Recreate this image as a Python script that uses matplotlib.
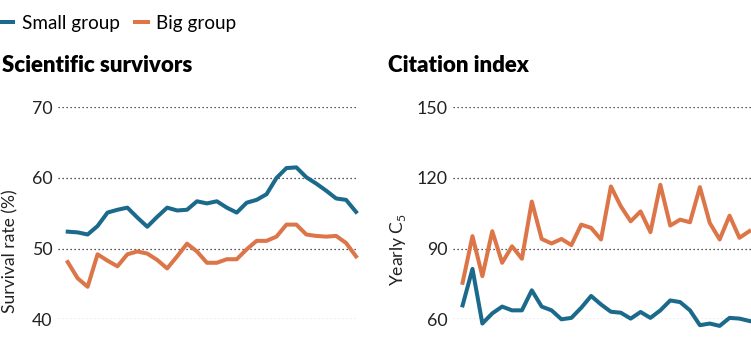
import matplotlib.pyplot as plt

plt.rcParams['font.family'] = ['Lato', 'DejaVu Sans']

# survival rate (%) per year, small vs big groups
survival_small = [52.4, 52.3, 52.0, 53.2, 55.1, 55.5, 55.8, 54.4, 53.1, 54.5,
                  55.8, 55.4, 55.5, 56.7, 56.4, 56.7, 55.8, 55.1, 56.5, 56.9,
                  57.7, 60.0, 61.4, 61.5, 60.1, 59.2, 58.2, 57.1, 56.9, 55.2]
survival_big = [48.1, 45.8, 44.6, 49.2, 48.3, 47.5, 49.2, 49.6, 49.3, 48.4,
                47.2, 48.9, 50.7, 49.6, 48.0, 48.0, 48.5, 48.5, 49.9, 51.1,
                51.1, 51.7, 53.4, 53.4, 52.0, 51.8, 51.7, 51.8, 50.8, 48.9]

# yearly C5 citation index
c5_small = [65.9, 81.4, 58.2, 62.5, 65.4, 63.8, 63.8, 72.3, 65.4, 63.8,
            60.0, 60.6, 64.9, 69.9, 66.3, 63.2, 62.8, 60.3, 63.1, 60.6,
            63.8, 68.0, 67.3, 63.8, 57.5, 58.2, 57.2, 60.6, 60.3, 59.3]
c5_big = [75.5, 95.3, 78.3, 97.4, 84.0, 91.0, 85.7, 110.0, 94.1, 92.2,
          94.1, 91.5, 100.2, 98.8, 93.9, 116.4, 108.0, 101.6, 105.8, 97.0,
          117.1, 99.8, 102.3, 101.2, 116.1, 100.9, 93.9, 104.0, 94.6, 97.4]

survival_ticks = [40, 50, 60, 70]
c5_ticks = [60, 90, 120, 150]

BLUE = '#1c6a8b'
ORANGE = '#dc7649'
W, H = 751, 358

fig = plt.figure(figsize=(W / 100, H / 100), dpi=100)

ax1 = fig.add_axes([58 / W, (H - 319.3) / H, 300 / W, 212 / H])
ax2 = fig.add_axes([452.7 / W, (H - 319.3) / H, (W - 452.7) / W, 212 / H])


def style(ax, ticks):
    ax.set_ylim(ticks[0], ticks[-1])
    ax.set_yticks(ticks)
    ax.set_xticks([])
    for s in ax.spines.values():
        s.set_visible(False)
    ax.tick_params(axis='y', length=0, pad=4.0, labelsize=12.8, labelcolor='#222')
    ax.grid(axis='y', color='#222', linestyle=(0, (1, 2.2)), linewidth=0.9)
    ax.set_axisbelow(True)


x1 = range(len(survival_small))
l_small, = ax1.plot(x1, survival_small, color=BLUE, lw=2.9, label='Small group',
                    clip_on=False)
l_big, = ax1.plot(x1, survival_big, color=ORANGE, lw=2.9, label='Big group',
                  clip_on=False)
ax1.set_xlim(-0.98, 29.2)
style(ax1, survival_ticks)

x2 = range(len(c5_small))
ax2.plot(x2, c5_big, color=ORANGE, lw=2.9, clip_on=False)
ax2.plot(x2, c5_small, color=BLUE, lw=2.9, clip_on=False)
ax2.set_xlim(-1.0, 29.17)
style(ax2, c5_ticks)

fig.legend(handles=[l_small, l_big], loc='center left', bbox_to_anchor=(0, 1 - 23 / H),
           ncol=2, frameon=False, fontsize=13.6, handlelength=0.7, handletextpad=0.45,
           columnspacing=0.8, borderpad=0, borderaxespad=0)

fig.text(2 / W, 1 - 72 / H, 'Scientific survivors', fontsize=16, fontweight='heavy',
         va='baseline', ha='left')
fig.text(388 / W, 1 - 72 / H, 'Citation index', fontsize=16, fontweight='heavy',
         va='baseline', ha='left')

fig.text(10 / W, 1 - 251 / H, 'Survival rate (%)', rotation=90, fontsize=12.6,
         ha='center', va='center', color='#222')
fig.text(398 / W, 1 - 250 / H, r'Yearly C$_\mathregular{5}$', rotation=90, fontsize=12.6,
         ha='center', va='center', color='#222')

fig.savefig('out.png', dpi=100)
